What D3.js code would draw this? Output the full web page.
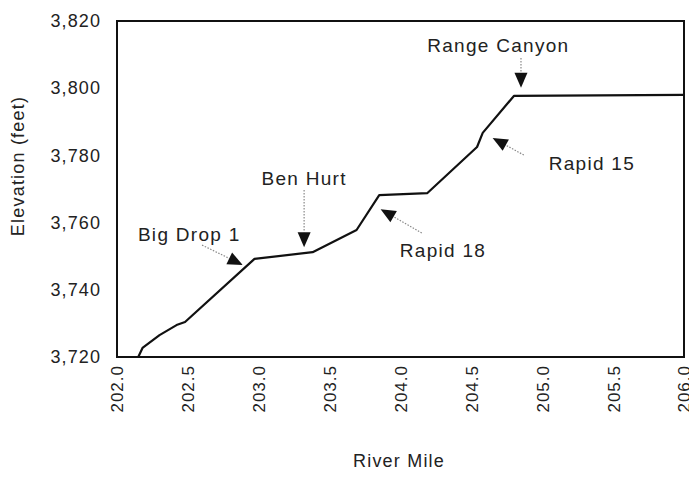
<!DOCTYPE html>
<html><head><meta charset="utf-8">
<script src="https://cdn.jsdelivr.net/npm/d3@7"></script>
<style>
body{margin:0;background:#fff;}
text{font-family:"Liberation Sans",Arial,sans-serif;fill:#222;}
</style></head>
<body><svg id="c" width="689" height="479"></svg>
<script>
const riverMile = [202.15,202.18,202.30,202.42,202.48,202.97,203.38,203.69,203.85,204.19,204.54,204.58,204.80,206.0];
const elevation = [3720,3722.7,3726.5,3729.5,3730.4,3749.2,3751.2,3757.8,3768.2,3768.8,3782.5,3786.7,3797.7,3798];
const xTicks = [202.0,202.5,203.0,203.5,204.0,204.5,205.0,205.5,206.0];
const yTicks = [3720,3740,3760,3780,3800,3820];
const annLabels = ["Big Drop 1","Ben Hurt","Rapid 18","Range Canyon","Rapid 15"];
const annTipX = [202.887,203.32,203.86,204.85,204.65];
const annTipY = [3747.4,3752.7,3764.0,3800.1,3785.2];
const annTailX = [202.60,203.32,204.15,204.85,204.87];
const annTailY = [3753.3,3769.7,3756.9,3809.0,3780.1];
const annTextX = [202.51,203.32,204.30,204.69,205.35];
const annTextY = [3756.6,3773.3,3751.8,3812.9,3777.7];

const svg = d3.select("#c");
const m = {l:117,r:684,t:21,b:357};
const x = d3.scaleLinear().domain([202,206]).range([m.l,m.r]);
const y = d3.scaleLinear().domain([3720,3820]).range([m.b,m.t]);

// y axis labels
const yAxis = d3.axisLeft(y).tickValues(yTicks).tickSize(0).tickPadding(16).tickFormat(d3.format(","));
const ga = svg.append("g").attr("transform",`translate(${m.l},0)`).call(yAxis);
ga.select(".domain").remove();
ga.selectAll("text").style("font-size","18px").style("letter-spacing","1.1px").attr("font-family",null);

// x axis labels
const xAxis = d3.axisBottom(x).tickValues(xTicks).tickSize(0).tickFormat(d3.format(".1f"));
const gx = svg.append("g").attr("transform",`translate(0,${m.b})`).call(xAxis);
gx.select(".domain").remove();
gx.selectAll("text").style("font-size","17px").style("letter-spacing","1px")
  .attr("transform","rotate(-90)").attr("x",-8).attr("y",0).attr("dy","0.35em")
  .style("text-anchor","end");

// frame
svg.append("rect").attr("x",m.l).attr("y",m.t).attr("width",m.r-m.l).attr("height",m.b-m.t)
  .attr("fill","none").attr("stroke","#111").attr("stroke-width",2);

// line
const pts = riverMile.map((d,i)=>[d,elevation[i]]);
svg.append("path").datum(pts)
  .attr("d",d3.line().x(d=>x(d[0])).y(d=>y(d[1])))
  .attr("fill","none").attr("stroke","#111").attr("stroke-width",2.2).attr("stroke-linejoin","round");

// annotations
annLabels.forEach((lab,i)=>{
  const tx=x(annTipX[i]), ty=y(annTipY[i]);
  const sx=x(annTailX[i]), sy=y(annTailY[i]);
  const dx=tx-sx, dy=ty-sy, L=Math.hypot(dx,dy), ux=dx/L, uy=dy/L;
  const hl=15, hw=6.5;
  const bx=tx-ux*hl, by=ty-uy*hl;
  svg.append("line").attr("x1",sx).attr("y1",sy).attr("x2",bx).attr("y2",by)
    .attr("stroke","#888").attr("stroke-width",1.2).attr("stroke-dasharray","1.5,1.5");
  svg.append("polygon").attr("points",[[tx,ty],[bx-uy*hw,by+ux*hw],[bx+uy*hw,by-ux*hw]].map(p=>p.join(",")).join(" "))
    .attr("fill","#111");
  svg.append("text").attr("x",x(annTextX[i])).attr("y",y(annTextY[i])).attr("dy","0.35em")
    .attr("text-anchor","middle").style("font-size","19px").style("letter-spacing","1.3px").text(lab);
});

// axis titles
svg.append("text").attr("x",399).attr("y",467).attr("text-anchor","middle")
  .style("font-size","18px").style("letter-spacing","1.2px").text("River Mile");
svg.append("text").attr("transform","translate(18,166) rotate(-90)").attr("dy","0.35em").attr("text-anchor","middle")
  .style("font-size","18px").style("letter-spacing","1.2px").text("Elevation (feet)");
</script></body></html>
